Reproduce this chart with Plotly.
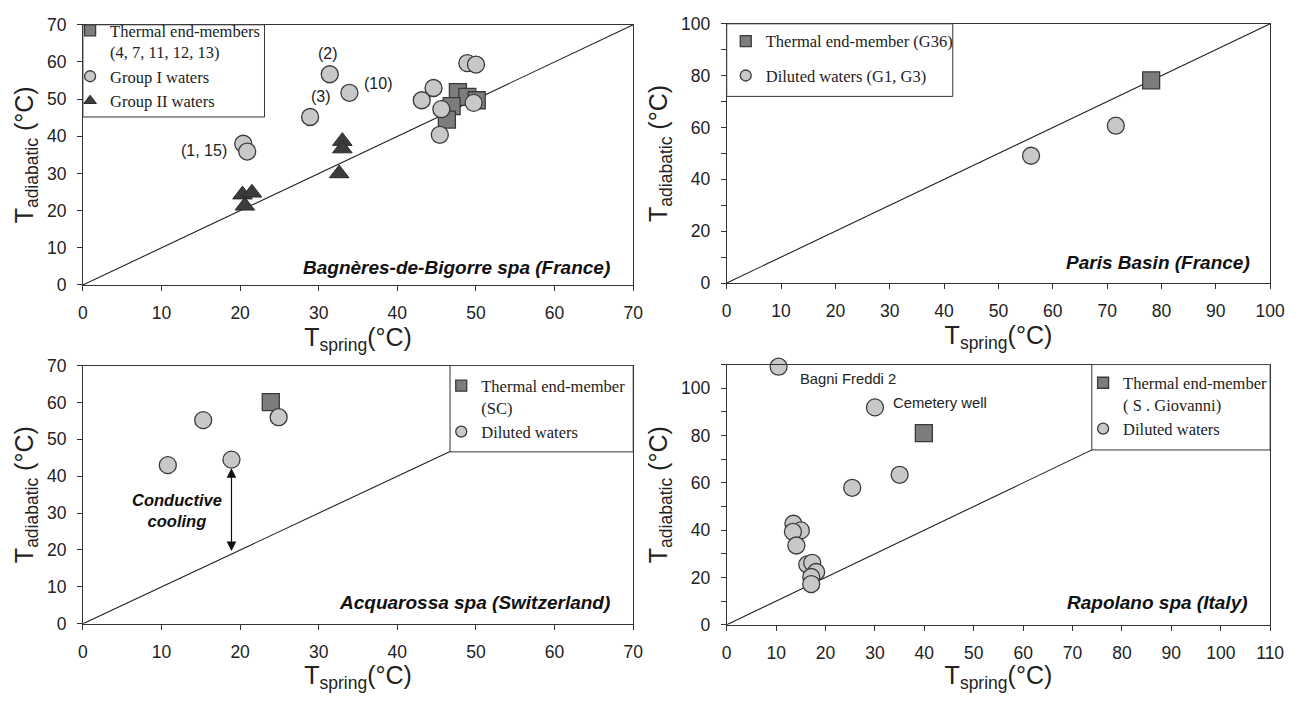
import plotly.graph_objects as go

# target window 1303x701; the page body has an 8px margin, so the figure is 16px smaller
W, H = 1303, 701
M = 8
FW, FH = W - 2 * M, H - 2 * M

# ---------------- data ----------------
# Panel A : Bagneres-de-Bigorre spa (France)
a_end_x = [47.7, 48.9, 50.1, 46.9, 46.3]
a_end_y = [51.9, 50.6, 49.7, 48.1, 44.5]
a_g1_x = [48.9, 50.0, 44.6, 43.1, 45.6, 49.7, 45.4, 31.4, 33.9, 28.9, 20.4, 20.9]
a_g1_y = [59.7, 59.3, 53.0, 49.7, 47.3, 49.0, 40.4, 56.7, 51.7, 45.2, 38.0, 35.9]
a_g2_x = [33.0, 33.0, 32.6, 20.3, 21.5, 20.6]
a_g2_y = [38.7, 36.7, 30.0, 24.3, 24.8, 21.3]
a_lab_txt = ["(2)", "(3)", "(10)", "(1, 15)"]
a_lab_x = [31.2, 30.3, 37.5, 18.6]
a_lab_y = [62.2, 50.6, 54.1, 36.3]

# Panel B : Paris Basin (France)
b_end_x = [78.1]
b_end_y = [78.2]
b_dil_x = [71.6, 56.0]
b_dil_y = [60.7, 49.1]

# Panel C : Acquarossa spa (Switzerland)
c_end_x = [23.9]
c_end_y = [60.1]
c_dil_x = [24.9, 15.3, 10.8, 18.9]
c_dil_y = [56.0, 55.2, 43.0, 44.5]
c_arrow_x = 18.9
c_arrow_y = [42.6, 19.7]

# Panel D : Rapolano spa (Italy)
d_end_x = [39.9]
d_end_y = [81.0]
d_dil_x = [10.5, 30.0, 35.0, 25.4, 13.5, 15.0, 13.4, 14.1, 16.3, 17.3, 18.1, 17.1, 17.1]
d_dil_y = [109.1, 91.9, 63.4, 57.9, 42.7, 39.9, 39.3, 33.5, 25.5, 26.2, 22.3, 20.2, 17.2]
d_lab_txt = ["Bagni Freddi 2", "Cemetery well"]
d_lab_x = [14.5, 33.3]
d_lab_y = [103.7, 93.9]

# axes
a_range = [0, 70]
b_range = [0, 100]
c_range = [0, 70]
d_range = [0, 110]
ticks70 = list(range(0, 71, 10))
ticks100 = list(range(0, 101, 10))
ticks110 = list(range(0, 111, 10))
ticks70_lab = [str(v) for v in ticks70]
ticks100_xlab = [str(v) for v in ticks100]
ticks100_ylab = [str(v) if v % 20 == 0 else "" for v in ticks100]
ticks110_xlab = [str(v) for v in ticks110]
ticks110_ylab = [str(v) if v % 20 == 0 and v <= 100 else "" for v in ticks110]

titles = ["Bagnères-de-Bigorre spa (France)", "Paris Basin (France)",
          "Acquarossa spa (Switzerland)", "Rapolano spa (Italy)"]

# ---------------- styles ----------------
SQ = dict(symbol="square", size=17, color="#7d7d7d", line=dict(color="#3a3a3a", width=1.3))
CI = dict(symbol="circle", size=17, color="#c8c8c8", line=dict(color="#3a3a3a", width=1.3))
TR = dict(symbol="triangle-up", size=17, color="#3c3c3c", line=dict(color="#2a2a2a", width=1))
SQL = dict(SQ, size=11)
CIL = dict(CI, size=11)
TRL = dict(TR, size=11)
LINE = dict(color="#222222", width=1.1)

fig = go.Figure()


def pts(x, y, mk, xa, ya):
    fig.add_trace(go.Scatter(x=x, y=y, mode="markers", marker=mk, xaxis=xa, yaxis=ya,
                             showlegend=False, cliponaxis=False, hoverinfo="x+y"))


def diag(rng, xa, ya):
    fig.add_trace(go.Scatter(x=rng, y=rng, mode="lines", line=LINE, xaxis=xa, yaxis=ya,
                             showlegend=False, hoverinfo="skip"))


def leg(name, mk, legend, group):
    fig.add_trace(go.Scatter(x=[None], y=[None], mode="markers", marker=mk, name=name,
                             legend=legend, legendgroup=group, showlegend=True))


# panel A
diag(a_range, "x", "y")
pts(a_end_x, a_end_y, SQ, "x", "y")
pts(a_g1_x, a_g1_y, CI, "x", "y")
pts(a_g2_x, a_g2_y, TR, "x", "y")
# panel B
diag(b_range, "x2", "y2")
pts(b_end_x, b_end_y, SQ, "x2", "y2")
pts(b_dil_x, b_dil_y, CI, "x2", "y2")
# panel C
diag(c_range, "x3", "y3")
pts(c_end_x, c_end_y, SQ, "x3", "y3")
pts(c_dil_x, c_dil_y, CI, "x3", "y3")
# panel D
diag(d_range, "x4", "y4")
pts(d_end_x, d_end_y, SQ, "x4", "y4")
pts(d_dil_x, d_dil_y, CI, "x4", "y4")

# legend entries
leg("Thermal end-members<br>(4, 7, 11, 12, 13)", SQL, "legend", "a1")
leg("Group I waters", CIL, "legend", "a2")
leg("Group II waters", TRL, "legend", "a3")
leg("Thermal end-member (G36)", SQL, "legend2", "b1")
leg("Diluted waters (G1, G3)", CIL, "legend2", "b2")
leg("Thermal end-member<br>(SC)", SQL, "legend3", "c1")
leg("Diluted waters", CIL, "legend3", "c2")
leg("Thermal end-member<br>( S . Giovanni)", SQL, "legend4", "d1")
leg("Diluted waters", CIL, "legend4", "d2")


def px(x):
    return (x - M) / FW


def py(y):
    return 1 - (y - M) / FH


TICKFONT = dict(family="Liberation Sans, Arial", size=17.5, color="#222")
TITLEFONT = dict(family="Liberation Sans, Arial", size=25, color="#222")


def axis(domain, rng, tickvals, ticktext, title, anchor, standoff):
    return dict(domain=domain, range=rng, tickmode="array", tickvals=tickvals, ticktext=ticktext,
                showline=True, linecolor="#333", linewidth=1, mirror=True,
                ticks="outside", ticklen=5, tickcolor="#333", tickwidth=1,
                showgrid=False, zeroline=False, tickfont=TICKFONT,
                ticklabelstandoff=7, anchor=anchor, fixedrange=True,
                title=dict(text=title, font=TITLEFONT, standoff=standoff))


XT = "T<sub>spring</sub>(°C)"
YT = "T<sub>adiabatic</sub> (°C)"

dxL = [px(79), px(638)]
dxR = [px(733), px(1285)]
dyT = [py(283), py(15)]
dyT2 = [py(281), py(14)]
dyB = [py(632), py(366)]
dyB2 = [py(633), py(365)]

LEGFONT = dict(family="Liberation Serif, Times New Roman", size=16.5, color="#222")


def legend_at(xp, yp, gap):
    return dict(x=px(xp), y=py(yp), xref="paper", yref="paper", xanchor="left", yanchor="top",
                bgcolor="rgba(0,0,0,0)", borderwidth=0, font=LEGFONT, valign="top",
                tracegroupgap=gap, traceorder="grouped", itemclick=False, itemdoubleclick=False)


fig.update_layout(
    width=FW, height=FH, autosize=False,
    margin=dict(l=0, r=0, t=0, b=0),
    paper_bgcolor="white", plot_bgcolor="white",
    font=dict(family="Liberation Sans, Arial", color="#222"),
    xaxis=axis(dxL, a_range, ticks70, ticks70_lab, XT, "y", 4),
    yaxis=axis(dyT, a_range, ticks70, ticks70_lab, YT, "x", 6),
    xaxis2=axis(dxR, b_range, ticks100, ticks100_xlab, XT, "y2", 4),
    yaxis2=axis(dyT2, b_range, ticks100, ticks100_ylab, YT, "x2", 6),
    xaxis3=axis(dxL, c_range, ticks70, ticks70_lab, XT, "y3", 4),
    yaxis3=axis(dyB, c_range, ticks70, ticks70_lab, YT, "x3", 6),
    xaxis4=axis(dxR, d_range, ticks110, ticks110_xlab, XT, "y4", 4),
    yaxis4=axis(dyB2, d_range, ticks110, ticks110_ylab, YT, "x4", 6),
    legend=legend_at(66, 3, 0),
    legend2=legend_at(732, 14, 10),
    legend3=legend_at(443, 369, 0),
    legend4=legend_at(1095, 366, 0),
    showlegend=True,
)

# legend boxes (white, covering the 1:1 line)
boxes = [("x", "y", 0, 23.1, 45.2, 70), ("x2", "y2", 0, 41.6, 72.0, 100),
         ("x3", "y3", 46.7, 70, 46.6, 70), ("x4", "y4", 73.9, 110, 73.9, 110)]
for xa, ya, x0, x1, y0, y1 in boxes:
    fig.add_shape(type="rect", xref=xa, yref=ya, x0=x0, x1=x1, y0=y0, y1=y1,
                  fillcolor="white", line=dict(color="#333", width=1), layer="above")

# panel titles
TFONT = dict(family="Liberation Sans, Arial", size=19, color="#111")
tpos = [("x", "y", 67.3, 4.7), ("x2", "y2", 96.7, 7.9), ("x3", "y3", 67.3, 5.8), ("x4", "y4", 105.9, 9.4)]
for (xa, ya, tx, ty), t in zip(tpos, titles):
    fig.add_annotation(x=tx, y=ty, xref=xa, yref=ya, text="<b><i>" + t + "</i></b>",
                       showarrow=False, xanchor="right", yanchor="middle", font=TFONT)

# point labels panel A
for t, x, y in zip(a_lab_txt, a_lab_x, a_lab_y):
    fig.add_annotation(x=x, y=y, xref="x", yref="y", text=t, showarrow=False,
                       xanchor="right" if t == "(1, 15)" else "center", yanchor="middle",
                       font=dict(family="Liberation Sans, Arial", size=16, color="#222"))

# point labels panel D
for t, x, y in zip(d_lab_txt, d_lab_x, d_lab_y):
    fig.add_annotation(x=x, y=y, xref="x4", yref="y4", text=t, showarrow=False,
                       xanchor="left", yanchor="middle",
                       font=dict(family="Liberation Sans, Arial", size=14.8, color="#222"))

# conductive cooling arrow and text (panel C)
fig.add_annotation(x=c_arrow_x, y=c_arrow_y[1], ax=c_arrow_x, ay=c_arrow_y[0],
                   xref="x3", yref="y3", axref="x3", ayref="y3", text="", showarrow=True,
                   arrowhead=2, arrowside="end+start", arrowsize=1.6, arrowwidth=1.2,
                   arrowcolor="#111")
fig.add_annotation(x=12.0, y=30.6, xref="x3", yref="y3", text="<b><i>Conductive<br>cooling</i></b>",
                   showarrow=False, xanchor="center", yanchor="middle", align="center",
                   font=dict(family="Liberation Sans, Arial", size=16.5, color="#111"))

fig.write_html("out.html")
